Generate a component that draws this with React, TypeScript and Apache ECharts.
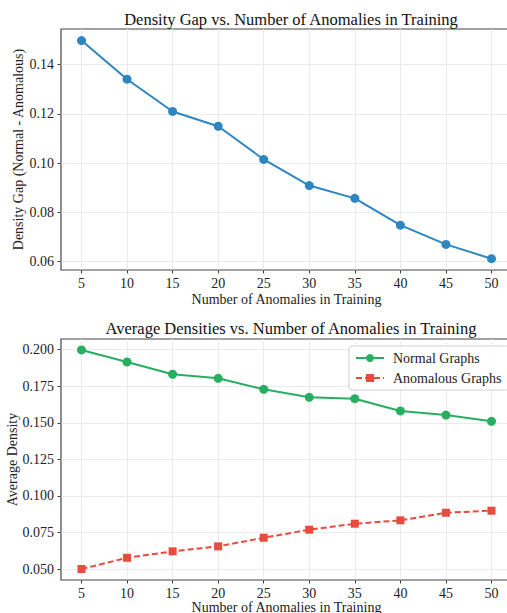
import React, { useEffect, useRef } from "react";
import * as echarts from "echarts";

const anomalies = [5, 10, 15, 20, 25, 30, 35, 40, 45, 50];
const densityGap = [0.1498, 0.1341, 0.121, 0.115, 0.1015, 0.0909, 0.0857, 0.0748, 0.067, 0.0612];
const normalDensity = [0.1998, 0.1916, 0.1832, 0.1804, 0.1729, 0.1674, 0.1665, 0.1581, 0.1553, 0.151];
const anomalousDensity = [0.05, 0.0577, 0.0621, 0.0655, 0.0714, 0.0769, 0.081, 0.0833, 0.0885, 0.0899];
const gapTicks = [0.06, 0.08, 0.1, 0.12, 0.14];
const densityTicks = [0.05, 0.075, 0.1, 0.125, 0.15, 0.175, 0.2];

const FONT = "Liberation Serif";
const TEXT = "#222";
const FS = 14;
const SPINE = "#444";

function xAxis(gridIndex: number, nameGap: number) {
  return {
    type: "value",
    gridIndex,
    min: 2.75,
    max: 52.25,
    name: "Number of Anomalies in Training",
    nameLocation: "middle",
    nameGap,
    nameMoveOverlap: false,
    nameTextStyle: { fontFamily: FONT, fontSize: FS, color: TEXT },
    axisLine: { show: false, onZero: false },
    axisTick: { show: true, length: 3.5, inside: false, customValues: anomalies, lineStyle: { color: SPINE, width: 1 } },
    axisLabel: {
      customValues: anomalies,
      fontFamily: FONT,
      fontSize: FS,
      color: TEXT,
      margin: 6,
    },
    splitLine: { show: true, lineStyle: { color: "#e6e6e6", width: 0.8 } },
  };
}

function yAxis(gridIndex: number, min: number, max: number, ticks: number[], digits: number, name: string, nameGap: number) {
  return {
    type: "value",
    gridIndex,
    min,
    max,
    name,
    nameLocation: "middle",
    nameGap,
    nameMoveOverlap: false,
    nameTextStyle: { fontFamily: FONT, fontSize: FS, color: TEXT },
    axisLine: { show: false, onZero: false },
    axisTick: { show: true, length: 3.5, inside: false, customValues: ticks, lineStyle: { color: SPINE, width: 1 } },
    axisLabel: {
      customValues: ticks,
      formatter: (v: number) => v.toFixed(digits),
      fontFamily: FONT,
      fontSize: FS,
      color: TEXT,
      margin: 7,
    },
    splitLine: { show: true, lineStyle: { color: "#e6e6e6", width: 0.8 } },
  };
}

export default function App() {
  const ref = useRef<HTMLDivElement>(null);
  useEffect(() => {
    if (!ref.current) return;
    const chart = echarts.init(ref.current, null, { renderer: "svg" });
    chart.setOption({
      animation: false,
      backgroundColor: "#fff",
      textStyle: { fontFamily: FONT },
      title: [
        {
          text: "Density Gap vs. Number of Anomalies in Training",
          left: 286,
          top: 6,
          textAlign: "center",
          textStyle: { fontFamily: FONT, fontSize: 16.5, fontWeight: "normal", color: "#111" },
        },
        {
          text: "Average Densities vs. Number of Anomalies in Training",
          left: 286,
          top: 315,
          textAlign: "center",
          textStyle: { fontFamily: FONT, fontSize: 16.5, fontWeight: "normal", color: "#111" },
        },
      ],
      legend: {
        data: ["Normal Graphs", "Anomalous Graphs"],
        orient: "vertical",
        left: 349,
        top: 346,
        padding: [5, 8, 5, 6],
        itemWidth: 28,
        itemHeight: 10,
        itemGap: 6,
        backgroundColor: "rgba(255,255,255,0.85)",
        borderColor: "#d0d0d0",
        borderWidth: 1,
        borderRadius: 3,
        textStyle: { fontFamily: FONT, fontSize: FS, color: TEXT, padding: [0, 0, 0, 4] },
      },
      grid: [
        { left: 61, top: 29, width: 451, height: 241, outerBoundsMode: "none", containLabel: false, show: true, borderColor: SPINE, borderWidth: 1.2, backgroundColor: "transparent" },
        { left: 61, top: 339, width: 451, height: 241, outerBoundsMode: "none", containLabel: false, show: true, borderColor: SPINE, borderWidth: 1.2, backgroundColor: "transparent" },
      ],
      xAxis: [xAxis(0, 22), xAxis(1, 20)],
      yAxis: [
        yAxis(0, 0.0566, 0.1545, gapTicks, 2, "Density Gap (Normal - Anomalous)", 36),
        yAxis(1, 0.0425, 0.2073, densityTicks, 3, "Average Density", 42),
      ],
      series: [
        {
          name: "Density Gap",
          type: "line",
          xAxisIndex: 0,
          yAxisIndex: 0,
          data: anomalies.map((x, i) => [x, densityGap[i]]),
          symbol: "circle",
          symbolSize: 9,
          lineStyle: { color: "#2e86c1", width: 2 },
          itemStyle: { color: "#2e86c1" },
        },
        {
          name: "Normal Graphs",
          type: "line",
          xAxisIndex: 1,
          yAxisIndex: 1,
          data: anomalies.map((x, i) => [x, normalDensity[i]]),
          symbol: "circle",
          symbolSize: 9,
          lineStyle: { color: "#27ae60", width: 2 },
          itemStyle: { color: "#27ae60" },
        },
        {
          name: "Anomalous Graphs",
          type: "line",
          xAxisIndex: 1,
          yAxisIndex: 1,
          data: anomalies.map((x, i) => [x, anomalousDensity[i]]),
          symbol: "rect",
          symbolSize: 8,
          lineStyle: { color: "#e74c3c", width: 2, type: [6, 3] },
          itemStyle: { color: "#e74c3c" },
        },
      ],
    });
    return () => chart.dispose();
  }, []);
  return (
    <div
      ref={ref}
      style={{ position: "absolute", left: 0, top: 0, width: 507, height: 613 }}
    />
  );
}
